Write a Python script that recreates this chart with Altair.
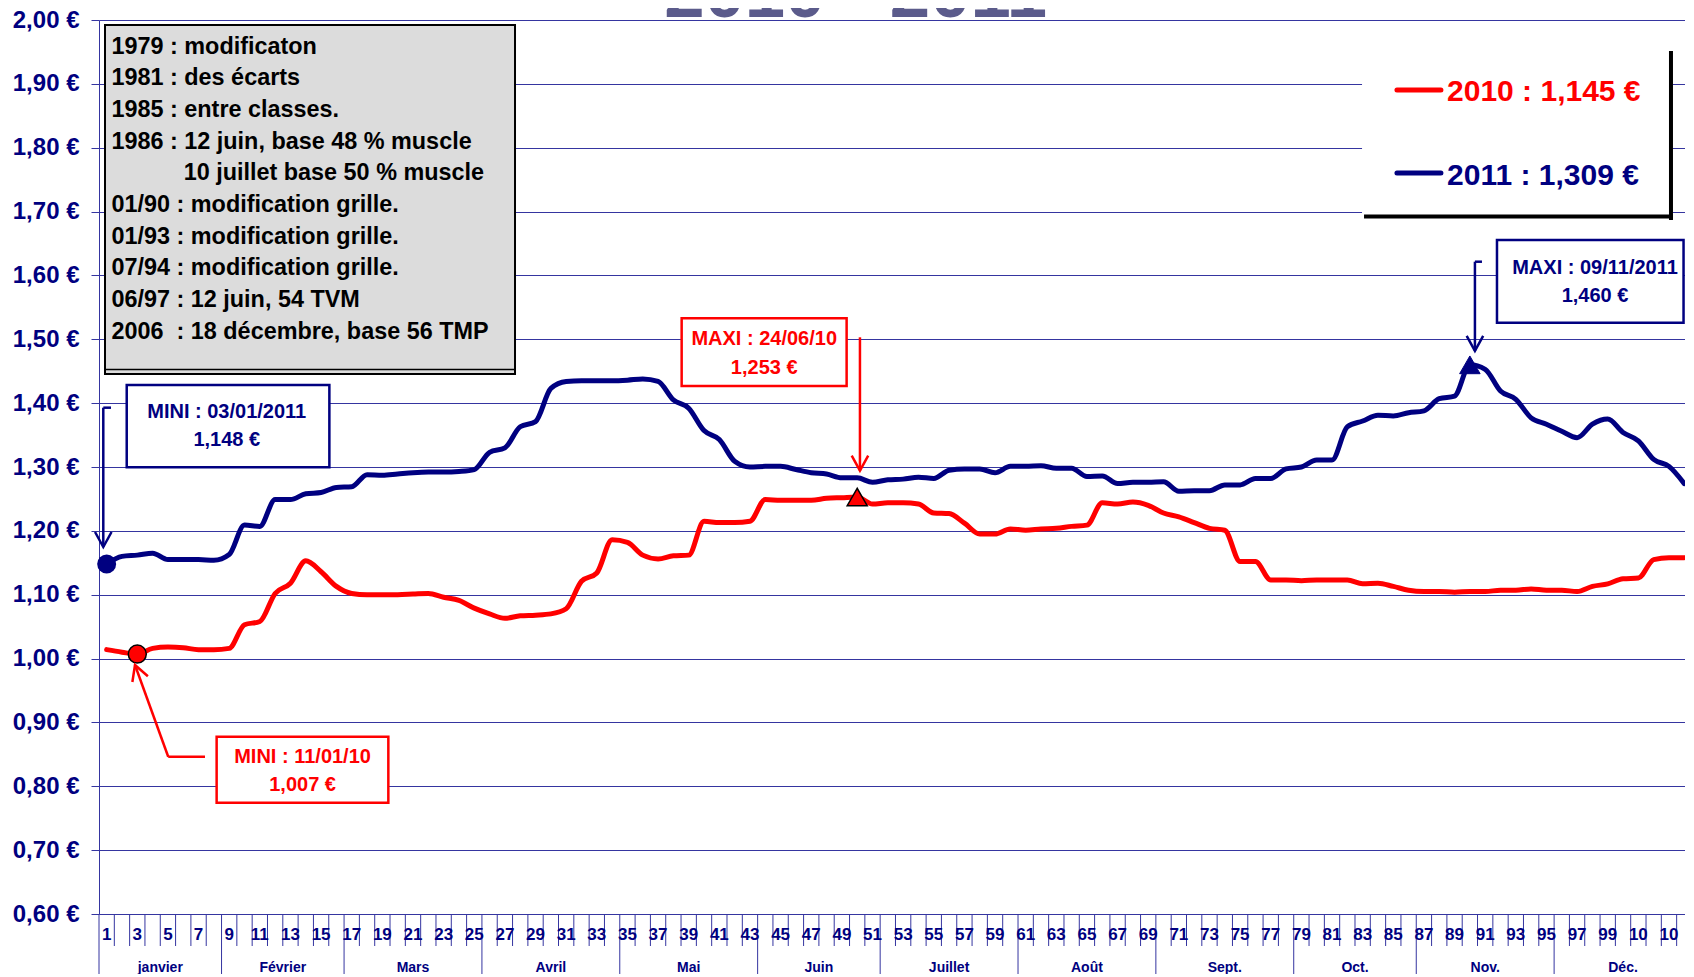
import altair as alt
import pandas as pd

# ---------------- données ----------------
semaines = list(range(1, 105))
prix_2010 = [
    1.014, 1.010, 1.007, 1.016, 1.018, 1.017, 1.014, 1.014, 1.016, 1.053,
    1.058, 1.102, 1.118, 1.153, 1.136, 1.113, 1.102, 1.100, 1.100, 1.100,
    1.101, 1.102, 1.096, 1.091, 1.079, 1.070, 1.063, 1.067, 1.068, 1.070,
    1.078, 1.121, 1.134, 1.186, 1.182, 1.162, 1.156, 1.161, 1.162, 1.215,
    1.213, 1.213, 1.215, 1.249, 1.248, 1.248, 1.248, 1.251, 1.252, 1.253,
    1.242, 1.244, 1.244, 1.242, 1.228, 1.227, 1.212, 1.195, 1.195, 1.203,
    1.201, 1.203, 1.204, 1.207, 1.209, 1.244, 1.242, 1.245, 1.240, 1.228,
    1.222, 1.213, 1.204, 1.201, 1.152, 1.152, 1.123, 1.123, 1.122, 1.123,
    1.123, 1.123, 1.117, 1.118, 1.113, 1.107, 1.105, 1.105, 1.104, 1.105,
    1.105, 1.107, 1.107, 1.109, 1.107, 1.107, 1.105, 1.113, 1.117, 1.125,
    1.126, 1.155, 1.158, 1.158]
prix_2011 = [
    1.148, 1.160, 1.162, 1.165, 1.155, 1.155, 1.155, 1.154, 1.163, 1.209,
    1.207, 1.249, 1.249, 1.258, 1.260, 1.268, 1.269, 1.288, 1.287, 1.289,
    1.291, 1.292, 1.292, 1.293, 1.296, 1.323, 1.330, 1.363, 1.371, 1.423,
    1.434, 1.435, 1.435, 1.435, 1.436, 1.438, 1.434, 1.405, 1.392, 1.357,
    1.343, 1.309, 1.300, 1.301, 1.301, 1.296, 1.291, 1.289, 1.283, 1.283,
    1.276, 1.280, 1.281, 1.284, 1.282, 1.295, 1.297, 1.297, 1.291, 1.301,
    1.301, 1.302, 1.298, 1.298, 1.285, 1.286, 1.274, 1.276, 1.276, 1.277,
    1.262, 1.263, 1.263, 1.272, 1.272, 1.282, 1.282, 1.297, 1.300, 1.311,
    1.311, 1.363, 1.372, 1.381, 1.380, 1.385, 1.388, 1.407, 1.411, 1.460,
    1.453, 1.419, 1.406, 1.377, 1.367, 1.356, 1.346, 1.367, 1.375, 1.354,
    1.341, 1.312, 1.301, 1.274]
graduations_y = [0.6, 0.7, 0.8, 0.9, 1.0, 1.1, 1.2, 1.3, 1.4, 1.5, 1.6, 1.7, 1.8, 1.9, 2.0]
mois = ["janvier", "Février", "Mars", "Avril", "Mai", "Juin", "Juillet",
        "Août", "Sept.", "Oct.", "Nov.", "Déc."]
fin_mois = [8, 16, 25, 34, 43, 51, 60, 69, 78, 86, 95, 104]

titre = "2010 - 2011"
legende_textes = ["2010 : 1,145 €", "2011 : 1,309 €"]
encadre_lignes = [
    "1979 : modificaton",
    "1981 : des écarts",
    "1985 : entre classes.",
    "1986 : 12 juin, base 48 % muscle",
    "10 juillet base 50 % muscle",
    "01/90 : modification grille.",
    "01/93 : modification grille.",
    "07/94 : modification grille.",
    "06/97 : 12 juin, 54 TVM",
    "2006\u00a0 : 18 décembre, base 56 TMP",
]
encadre_retrait = [0, 0, 0, 0, 1, 0, 0, 0, 0, 0]

ROUGE = "#FF0000"
BLEU = "#000080"
GRILLE = "#3535a0"

# annotations (in data units: week, price)
annot_boites = pd.DataFrame({
    "x": [2.31, 91.77, 38.54, 8.18],
    "x2": [15.54, 103.95, 49.31, 19.39],
    "y": [1.4284, 1.6555, 1.5329, 0.8776],
    "y2": [1.2995, 1.5260, 1.4268, 0.7743],
    "c": [BLEU, BLEU, ROUGE, ROUGE],
})
annot_textes = pd.DataFrame({
    "x": [8.84, 8.84, 98.17, 98.17, 43.93, 43.93, 13.79, 13.79],
    "y": [1.3857, 1.3423, 1.6121, 1.5678, 1.5004, 1.4555, 0.8454, 0.8020],
    "t": ["MINI : 03/01/2011", "1,148 €", "MAXI : 09/11/2011", "1,460 €",
          "MAXI : 24/06/10", "1,253 €", "MINI : 11/01/10", "1,007 €"],
    "c": [BLEU, BLEU, BLEU, BLEU, ROUGE, ROUGE, ROUGE, ROUGE],
})
segments = pd.DataFrame({
    "x": [0.78, 0.78, 90.33, 90.33, 50.18, 7.42, 5.02],
    "x2": [0.78, 1.283, 90.33, 90.79, 50.18, 5.02, 2.85],
    "y": [1.3929, 1.3929, 1.6215, 1.6215, 1.5031, 0.8463, 0.8463],
    "y2": [1.1747, 1.3929, 1.4817, 1.6215, 1.2942, 0.8463, 0.9899],
    "c": [BLEU, BLEU, BLEU, BLEU, ROUGE, ROUGE, ROUGE],
})
pointes = pd.DataFrame({
    "x": [0.78, 90.33, 50.18, 2.85],
    "y": [1.1747, 1.4817, 1.2942, 0.9899],
    "a": [180, 180, 180, 340],
    "c": [BLEU, BLEU, ROUGE, ROUGE],
})

# ---------------- construction ----------------
LARGEUR = 1586
xs = alt.Scale(domain=[0.5, 0.5 + LARGEUR / 15.317], nice=False, zero=False)
ys = alt.Scale(domain=[0.6, 2.0], nice=False, zero=False)
axe_y = alt.Axis(
    values=graduations_y,
    labelExpr="replace(format(datum.value, '.2f'), '.', ',') + ' €'",
    grid=True, gridColor=GRILLE, gridWidth=1, gridOpacity=1,
    domain=True, domainColor=GRILLE, domainWidth=1,
    ticks=True, tickColor=GRILLE, tickSize=8, tickWidth=1,
    labelFont="Liberation Sans", labelFontSize=24, labelFontWeight="bold",
    labelColor=BLEU, labelPadding=12, title=None)


def X(f):
    return alt.X(f, type="quantitative", scale=xs, axis=None)


def Y(f):
    return alt.Y(f, type="quantitative", scale=ys, axis=axe_y)


long = pd.DataFrame({
    "semaine": semaines * 2,
    "prix": prix_2010 + prix_2011,
    "serie": ["2010"] * len(semaines) + ["2011"] * len(semaines),
})

lignes = alt.Chart(long).mark_line(
    interpolate="monotone", strokeWidth=5, strokeCap="round", strokeJoin="round"
).encode(
    x=X("semaine"),
    y=Y("prix"),
    color=alt.Color("serie:N", scale=alt.Scale(domain=["2010", "2011"], range=[ROUGE, BLEU]), legend=None),
)

# x band: cell lines, month lines, labels
cellules = pd.DataFrame({"b": [k + 0.5 for k in semaines[:-1] if k not in fin_mois]})
traits_cellules = alt.Chart(cellules).mark_rule(color=GRILLE, strokeWidth=1).encode(
    x=X("b"), y=alt.value(894), y2=alt.value(926))
bornes = pd.DataFrame({"b": [0.5] + [e + 0.5 for e in fin_mois]})
traits_mois = alt.Chart(bornes).mark_rule(color=GRILLE, strokeWidth=1).encode(
    x=X("b"), y=alt.value(894), y2=alt.value(970))
etiq_sem = pd.DataFrame({"s": [k for k in semaines if k % 2 == 1]})
etiq_sem["lab"] = etiq_sem["s"].astype(str)
textes_sem = alt.Chart(etiq_sem).mark_text(
    font="Liberation Sans Narrow, Liberation Sans", fontWeight="bold", fontSize=17,
    color=BLEU, limit=21, ellipsis="\u200b", align="center", baseline="middle"
).encode(x=X("s"), y=alt.value(915), text="lab:N")
debuts = [1] + [e + 1 for e in fin_mois[:-1]]
etiq_mois = pd.DataFrame({"m": mois, "c": [(d + f) / 2 for d, f in zip(debuts, fin_mois)]})
textes_mois = alt.Chart(etiq_mois).mark_text(
    font="Liberation Sans", fontWeight="bold", fontSize=14, color=BLEU,
    align="center", baseline="middle"
).encode(x=X("c"), y=alt.value(948), text="m:N")

# min / max markers, computed from the series
i_min10 = prix_2010.index(min(prix_2010))
i_max10 = prix_2010.index(max(prix_2010))
i_min11 = prix_2011.index(min(prix_2011))
i_max11 = prix_2011.index(max(prix_2011))
rond_bleu = alt.Chart(pd.DataFrame({"s": [semaines[i_min11]], "p": [prix_2011[i_min11]]})).mark_point(
    shape="circle", filled=True, size=361, color=BLEU, opacity=1
).encode(x=X("s"), y=Y("p"))
rond_rouge = alt.Chart(pd.DataFrame({"s": [semaines[i_min10]], "p": [prix_2010[i_min10]]})).mark_point(
    shape="circle", filled=True, size=324, fill=ROUGE, stroke="black", strokeWidth=1.5, opacity=1
).encode(x=X("s"), y=Y("p"))
tri_rouge = alt.Chart(pd.DataFrame({"s": [semaines[i_max10]], "p": [prix_2010[i_max10]]})).mark_point(
    shape="triangle-up", filled=True, size=400, fill=ROUGE, stroke="black", strokeWidth=1.5, opacity=1
).encode(x=X("s"), y=Y("p"))
tri_bleu = alt.Chart(pd.DataFrame({"s": [semaines[i_max11]], "p": [prix_2011[i_max11]]})).mark_point(
    shape="triangle-up", filled=True, size=420, fill=BLEU, stroke=BLEU, strokeWidth=1, opacity=1
).encode(x=X("s"), y=Y("p"))

# grey text box
boite_grise = alt.Chart(pd.DataFrame({"x": [0.892], "x2": [27.66], "y": [1.9922], "y2": [1.4456]})).mark_rect(
    fill="#dcdcdc", stroke="black", strokeWidth=2
).encode(x=X("x"), x2="x2", y=Y("y"), y2="y2")
ombre_grise = alt.Chart(pd.DataFrame({"x": [0.892], "x2": [27.66], "y": [1.4527]})).mark_rule(
    color="black", strokeWidth=1.5
).encode(x=X("x"), x2="x2", y=Y("y"))
enc = pd.DataFrame({
    "t": encadre_lignes,
    "x": [6.03 if r else 1.316 for r in encadre_retrait],
    "y": [1.9582 - 0.0496 * i for i in range(len(encadre_lignes))],
})
textes_encadre = alt.Chart(enc).mark_text(
    font="Liberation Sans", fontWeight="bold", fontSize=23.4, color="black",
    align="left", baseline="middle"
).encode(x=X("x"), y=Y("y"), text="t:N")

# legend box
fond_leg = alt.Chart(pd.DataFrame({"x": [82.96], "x2": [103.26], "y": [1.9562], "y2": [1.6899]})).mark_rect(
    fill="white"
).encode(x=X("x"), x2="x2", y=Y("y"), y2="y2")
ombre_leg = alt.Chart(pd.DataFrame({
    "x": [103.13, 83.09], "x2": [103.13, 103.26],
    "y": [1.9515, 1.6923], "y2": [1.6868, 1.6923]})).mark_rule(color="black", strokeWidth=4).encode(
    x=X("x"), x2="x2", y=Y("y"), y2="y2")
leg = pd.DataFrame({"x": [85.24, 85.24], "x2": [88.11, 88.11], "y": [1.8904, 1.7604],
                    "ty": [1.8872, 1.7557], "tx": [88.51, 88.51],
                    "t": legende_textes, "c": [ROUGE, BLEU]})
traits_leg = alt.Chart(leg).mark_rule(strokeWidth=5, strokeCap="round").encode(
    x=X("x"), x2="x2", y=Y("y"), color=alt.Color("c:N", scale=None))
textes_leg = alt.Chart(leg).mark_text(
    font="Liberation Sans", fontWeight="bold", fontSize=30, align="left", baseline="middle"
).encode(x=X("tx"), y=Y("ty"), text="t:N", color=alt.Color("c:N", scale=None))

# annotation boxes, texts, connectors
boites = alt.Chart(annot_boites).mark_rect(fill="white", strokeWidth=2.5).encode(
    x=X("x"), x2="x2", y=Y("y"), y2="y2", stroke=alt.Stroke("c:N", scale=None))
textes_annot = alt.Chart(annot_textes).mark_text(
    font="Liberation Sans", fontWeight="bold", fontSize=20, align="center", baseline="middle"
).encode(x=X("x"), y=Y("y"), text="t:N", color=alt.Color("c:N", scale=None))
traits_annot = alt.Chart(segments).mark_rule(strokeWidth=2.5).encode(
    x=X("x"), x2="x2", y=Y("y"), y2="y2", color=alt.Color("c:N", scale=None))
fleches = alt.Chart(pointes).mark_point(
    shape="M -0.55 1 L 0 0 L 0.55 1", filled=False, size=900, strokeWidth=2.5, opacity=1
).encode(x=X("x"), y=Y("y"), angle=alt.Angle("a:Q", scale=None), stroke=alt.Stroke("c:N", scale=None))

texte_titre = alt.Chart(pd.DataFrame({"t": [titre], "x": [49.9]})).mark_text(
    font="Liberation Sans", fontWeight="bold", fontSize=72.5, color="#5b5b8b",
    align="center", baseline="alphabetic"
).encode(x=X("x"), y=alt.value(-3.3), text="t:N")

chart = alt.layer(
    lignes, traits_cellules, traits_mois, textes_sem, textes_mois,
    rond_bleu, rond_rouge, tri_rouge, tri_bleu,
    boite_grise, ombre_grise, textes_encadre,
    fond_leg, ombre_leg, traits_leg, textes_leg,
    boites, textes_annot, traits_annot, fleches, texte_titre,
).properties(
    width=LARGEUR, height=894,
    padding={"left": 91, "top": 12, "right": 0, "bottom": 60},
    autosize=alt.AutoSizeParams(type="none"),
    background="white",
).configure_view(strokeWidth=0)

chart.save("out.html", embed_options={"renderer": "svg", "actions": False})
